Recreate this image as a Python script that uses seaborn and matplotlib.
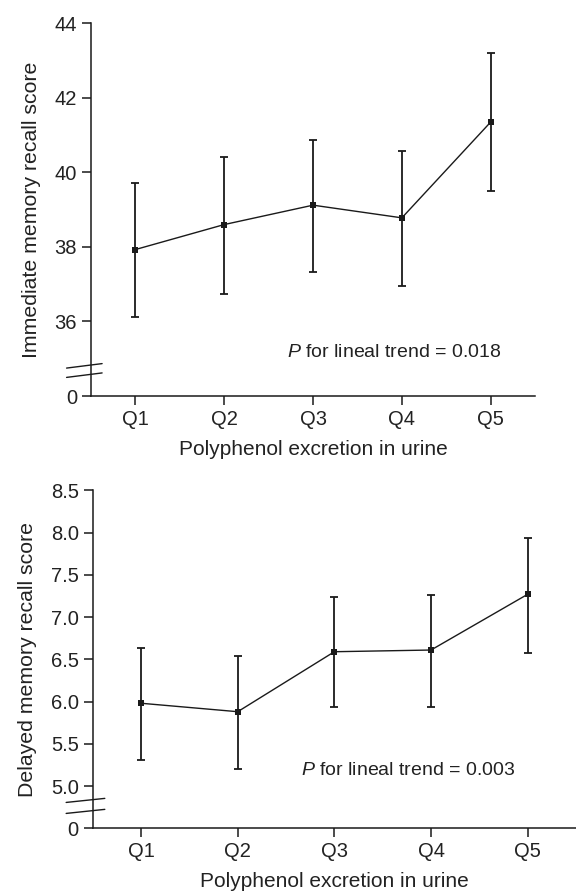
import numpy as np
import pandas as pd
import matplotlib
matplotlib.use('Agg')
import matplotlib.pyplot as plt
import seaborn as sns

# quintiles of urinary polyphenol excretion
quintiles = ['Q1', 'Q2', 'Q3', 'Q4', 'Q5']

# immediate recall: mean, lower and upper CI
immediate_mean = [37.93, 38.60, 39.12, 38.78, 41.35]
immediate_low = [36.11, 36.75, 37.33, 36.95, 39.49]
immediate_high = [39.71, 40.41, 40.88, 40.56, 43.20]

# delayed recall: mean, lower and upper CI
delayed_mean = [5.98, 5.88, 6.59, 6.61, 7.27]
delayed_low = [5.31, 5.20, 5.93, 5.94, 6.58]
delayed_high = [6.63, 6.54, 7.24, 7.26, 7.94]

immediate_ticks = [34, 36, 38, 40, 42, 44]
immediate_ticklabels = ['0', '36', '38', '40', '42', '44']
delayed_ticks = [4.5, 5.0, 5.5, 6.0, 6.5, 7.0, 7.5, 8.0, 8.5]
delayed_ticklabels = ['0', '5.0', '5.5', '6.0', '6.5', '7.0', '7.5', '8.0', '8.5']

sns.set_style('ticks')
plt.rcParams['font.family'] = ['Liberation Sans', 'DejaVu Sans']
plt.rcParams['mathtext.fontset'] = 'custom'
plt.rcParams['mathtext.it'] = 'Liberation Sans:italic'
plt.rcParams['mathtext.rm'] = 'Liberation Sans'

INK = '#1a1a1a'


def draw_panel(ax, mean, low, high, ticks, ticklabels, ylabel, ptext, ptext_xy, break_y):
    df = pd.DataFrame({'pos': np.arange(1, 6), 'score': mean})
    err = [np.array(mean) - np.array(low), np.array(high) - np.array(mean)]
    ax.errorbar(df['pos'], df['score'], yerr=err, fmt='none', ecolor=INK,
                elinewidth=1.3, capsize=2.6, capthick=1.3, zorder=2)
    sns.lineplot(data=df, x='pos', y='score', ax=ax, color=INK, lw=1.0,
                 marker='s', markersize=4.2, markeredgewidth=0, zorder=3)
    ax.set_xlim(0.5, 5.5)
    ax.set_ylim(ticks[0], ticks[-1])
    ax.set_xticks(df['pos'])
    ax.set_xticklabels(quintiles)
    ax.set_yticks(ticks)
    ax.set_yticklabels(ticklabels)
    sns.despine(ax=ax)
    for s in ['left', 'bottom']:
        ax.spines[s].set_color(INK)
        ax.spines[s].set_linewidth(1.1)
    ax.tick_params(axis='both', length=6.5, width=1.1, color=INK,
                   labelsize=14.5, labelcolor='#222222', pad=3.5)
    ax.set_xlabel('Polyphenol excretion in urine', fontsize=15, color='#222222', labelpad=8)
    ax.set_ylabel(ylabel, fontsize=15.3, color='#222222', labelpad=10)
    ax.text(ptext_xy[0], ptext_xy[1], r'$P$ for lineal trend = ' + ptext, fontsize=14,
            color='#222222', ha='center', va='center')
    # axis break marks
    trans = ax.get_yaxis_transform()
    y0, y1 = ax.get_ylim()
    dy = (y1 - y0) * 0.006
    for yb in break_y:
        ax.plot([-0.055, 0.025], [yb - dy, yb + dy], color=INK, lw=1.0,
                transform=trans, clip_on=False)


fig = plt.figure(figsize=(5.76, 8.94), dpi=100)
ax_top = fig.add_axes([0.158, 0.557, 0.771, 0.417])
ax_bot = fig.add_axes([0.161, 0.0735, 0.839, 0.378])

draw_panel(ax_top, immediate_mean, immediate_low, immediate_high,
           immediate_ticks, immediate_ticklabels, 'Immediate memory recall score',
           '0.018', (3.91, 35.18), [34.81, 34.56])
draw_panel(ax_bot, delayed_mean, delayed_low, delayed_high,
           delayed_ticks, delayed_ticklabels, 'Delayed memory recall score',
           '0.003', (3.76, 5.18), [4.83, 4.70])

fig.savefig('out.png', dpi=100)
